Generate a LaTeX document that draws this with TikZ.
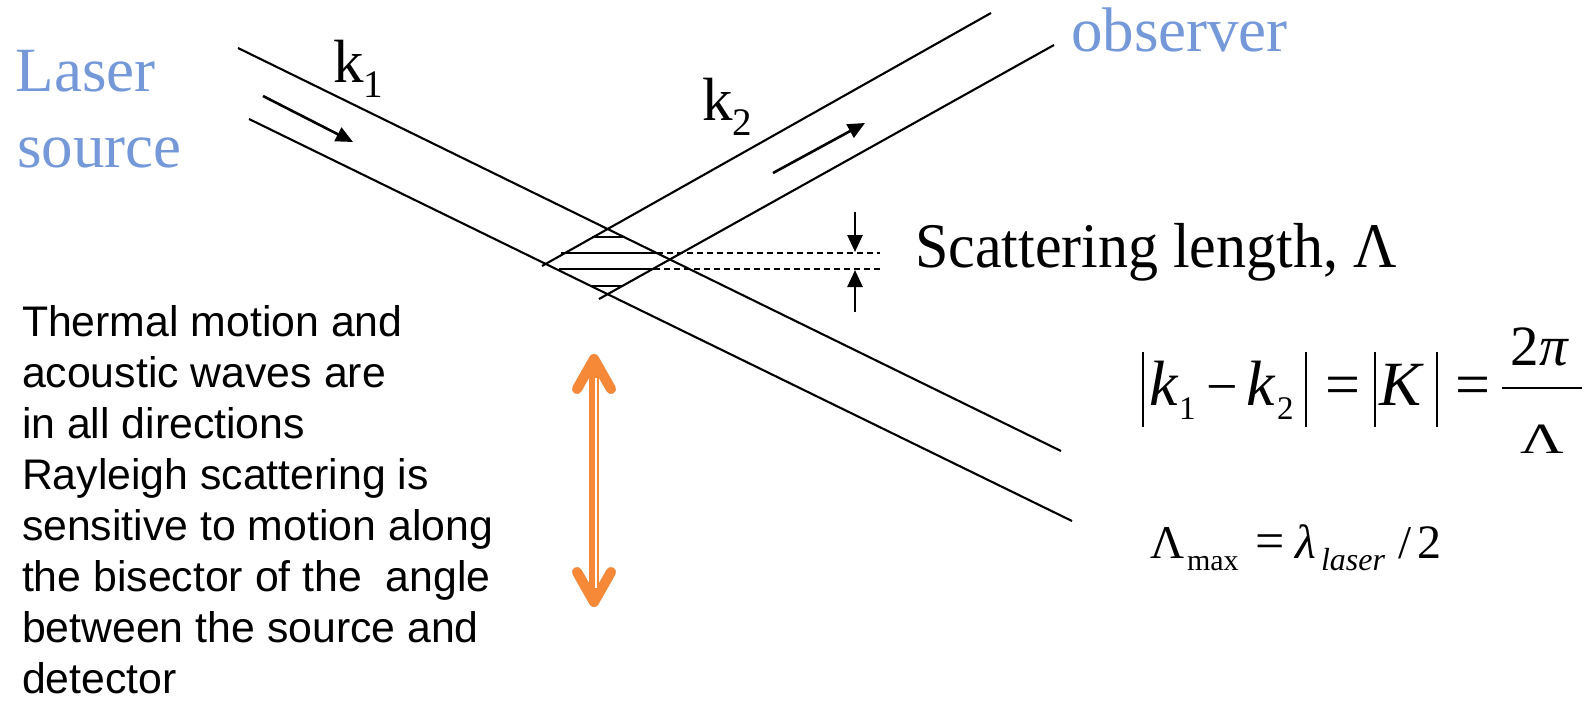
\documentclass[tikz,border=0pt]{standalone}
\usepackage{fontspec}
\usepackage{graphicx}
\setmainfont{Liberation Serif}
\newfontfamily\arialfont{Liberation Sans}
\usetikzlibrary{arrows.meta}
\definecolor{lblue}{RGB}{117,152,217}
\definecolor{aorange}{RGB}{245,137,55}
\newcommand\myfs[1]{\fontsize{#1}{#1}\selectfont}
\begin{document}
\begin{tikzpicture}[x=1pt,y=-1pt,
  beam/.style={line width=2.1pt},
  hatchline/.style={line width=2.5pt},
  dashline/.style={line width=1.3pt, dash pattern=on 6pt off 4pt},
  smallarrow/.style={line width=2.6pt, -{Triangle[length=17pt,width=15pt]}},
  txt/.style={inner sep=0pt, outer sep=0pt, anchor=base west},
  bluetxt/.style={txt, text=lblue, font=\myfs{63}},
  sanstxt/.style={txt, font=\arialfont\myfs{42.8}},
  orangearrow/.style={aorange, line width=10pt, line cap=round, line join=round}]
\useasboundingbox (0,0) rectangle (1591,701);

% beams
\coordinate (L1a) at (238,48);  \coordinate (L1b) at (1061,451);
\coordinate (L2a) at (249,119); \coordinate (L2b) at (1072,521);
\coordinate (O1a) at (542,266); \coordinate (O1b) at (991,13);
\coordinate (O2a) at (599,299); \coordinate (O2b) at (1054,45);
\draw[beam] (L1a) -- (L1b);
\draw[beam] (L2a) -- (L2b);
\draw[beam] (O1a) -- (O1b);
\draw[beam] (O2a) -- (O2b);

% direction arrows
\coordinate (A1a) at (263,96);  \coordinate (A1b) at (353,142);
\coordinate (A2a) at (773,173); \coordinate (A2b) at (865,123);
\draw[smallarrow] (A1a) -- (A1b);
\draw[smallarrow] (A2a) -- (A2b);

% hatching in the crossing region
\coordinate (H1a) at (592,237); \coordinate (H1b) at (623,237);
\coordinate (H2a) at (561,253); \coordinate (H2b) at (657,253);
\coordinate (H3a) at (559,269); \coordinate (H3b) at (654,269);
\coordinate (H4a) at (592,286); \coordinate (H4b) at (622,286);
\draw[hatchline] (H1a) -- (H1b);
\draw[hatchline] (H2a) -- (H2b);
\draw[hatchline] (H3a) -- (H3b);
\draw[hatchline] (H4a) -- (H4b);
\coordinate (D1) at (880,253); \coordinate (D2) at (880,269);
\draw[dashline] (H2b) -- (D1);
\draw[dashline] (H3b) -- (D2);

% scattering length arrows
\coordinate (S1a) at (855,212); \coordinate (S1b) at (855,252);
\coordinate (S2a) at (855,312); \coordinate (S2b) at (855,270);
\draw[smallarrow] (S1a) -- (S1b);
\draw[smallarrow] (S2a) -- (S2b);

% labels
\node[bluetxt] (laser) at (16,92) {Laser};
\node[bluetxt] (source) at (17,167) {source};
\node[bluetxt] (observer) at (1071,52) {observer};
\node[txt, font=\myfs{61}] (k1) at (333,83) {k\raisebox{-15pt}{\myfs{39}1}};
\node[txt, font=\myfs{61}] (k2) at (702,120) {k\raisebox{-15pt}{\myfs{39}2}};
\node[txt, font=\myfs{60}] (scat) at (915,267) {\scalebox{1}[1.06]{Scattering length, Λ}};

% left text
\foreach \t [count=\i from 0] in {Thermal motion and, acoustic waves are, in all directions, Rayleigh scattering is, sensitive to motion along, the bisector of the~ angle, between the source and, detector}
  \node[sanstxt] (line\i) at (22,{336+51*\i}) {\t};

% orange double arrow (with a faint shadow)
\coordinate (OAt) at (594,359); \coordinate (OAb) at (594,602);
\coordinate (OAtl) at (577,389); \coordinate (OAtr) at (611,389);
\coordinate (OAbl) at (577,572); \coordinate (OAbr) at (611,572);
\begin{scope}[shift={(2,3)}, opacity=0.18]
  \draw[orangearrow, black] (OAtl) -- (OAt) -- (OAtr);
  \draw[orangearrow, black] (OAbl) -- (OAb) -- (OAbr);
  \draw[black, line width=10pt] (OAt) -- (OAb);
\end{scope}
\draw[orangearrow] (OAtl) -- (OAt) -- (OAtr);
\draw[orangearrow] (OAbl) -- (OAb) -- (OAbr);
\draw[aorange, line width=10pt] (OAt) -- (OAb);
\coordinate (OWt) at (596,378); \coordinate (OWb) at (596,588);
\draw[white, line width=2pt] (OWt) -- (OWb);

% formula |k1 - k2| = |K| = 2pi/Lambda
\coordinate (B1a) at (1143,352); \coordinate (B1b) at (1143,427);
\coordinate (B2a) at (1306,352); \coordinate (B2b) at (1306,427);
\coordinate (B3a) at (1375,352); \coordinate (B3b) at (1375,427);
\coordinate (B4a) at (1437,352); \coordinate (B4b) at (1437,427);
\draw[line width=2.5pt] (B1a) -- (B1b);
\draw[line width=2.5pt] (B2a) -- (B2b);
\draw[line width=2.5pt] (B3a) -- (B3b);
\draw[line width=2.5pt] (B4a) -- (B4b);
\node[txt, font=\myfs{64}] (fk1) at (1149,405) {\textit{k}};
\node[txt, font=\myfs{33}] (fs1) at (1179,419) {1};
\node[txt, font=\myfs{56}] (fmin) at (1206,405) {−};
\node[txt, font=\myfs{64}] (fk2) at (1246,405) {\textit{k}};
\node[txt, font=\myfs{33}] (fs2) at (1277,419) {2};
\node[txt, font=\myfs{62}] (feq1) at (1325,405) {=};
\node[txt, font=\myfs{63}] (fK) at (1379,405) {\textit{K}};
\node[txt, font=\myfs{62}] (feq2) at (1455,405) {=};
\coordinate (FRa) at (1502,388); \coordinate (FRb) at (1582,388);
\draw[line width=2.3pt] (FRa) -- (FRb);
\node[inner sep=0pt, anchor=base, font=\myfs{57}] (fnum) at (1540,365) {2\textit{π}};
\node[inner sep=0pt, anchor=base, font=\myfs{60}] (fden) at (1542,453) {\scalebox{1}[0.72]{Λ}};

% Lambda_max = lambda_laser / 2
\node[txt, font=\myfs{47}] (m1) at (1150,558) {Λ};
\node[txt, font=\myfs{30}] (m2) at (1187,570) {max};
\node[txt, font=\myfs{52}] (m3) at (1255,558) {=};
\node[txt, font=\myfs{48}] (m4) at (1295,558) {\textit{λ}};
\node[txt, font=\myfs{32}] (m5) at (1321,570) {\textit{laser}};
\node[txt, font=\myfs{47}] (m6) at (1398,558) {/};
\node[txt, font=\myfs{48}] (m7) at (1417,558) {2};
\end{tikzpicture}
\end{document}
